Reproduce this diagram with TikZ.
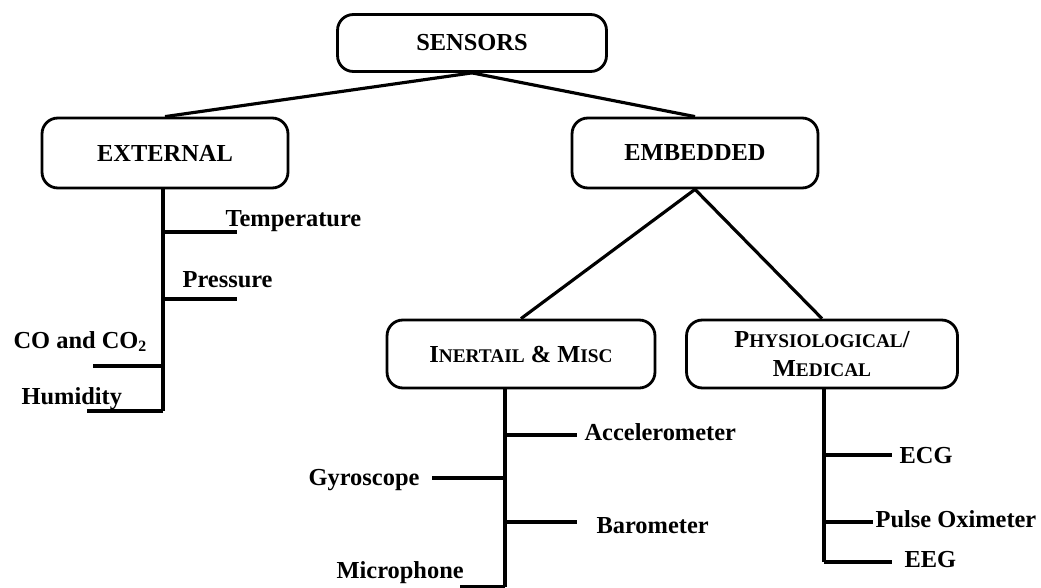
\documentclass[tikz,border=0pt]{standalone}
\usepackage{fontspec}
\setmainfont{Liberation Serif}
\usepackage{tikz}
\usetikzlibrary{shapes,arrows,positioning}

\newcommand{\capsmall}[2]{#1{\fontsize{11pt}{13pt}\selectfont #2}}
\newcommand{\lowtwo}{\raisebox{-0.35ex}{\fontsize{9pt}{10pt}\selectfont 2}}

\begin{document}
\begin{tikzpicture}[x=0.02cm,y=-0.02cm,line width=1.8pt,
  box/.style={draw, rectangle, rounded corners=9pt, line width=1.6pt, align=center,
    font=\bfseries\fontsize{13.9}{16}\selectfont},
  leaf/.style={inner sep=0pt, font=\bfseries\fontsize{13.9}{16}\selectfont}]
\useasboundingbox (0,0) rectangle (1041,588);

\node (sensors) [box, minimum width=5.38cm, minimum height=1.14cm] at (472,43) {SENSORS};
\node (external) [box, minimum width=4.92cm, minimum height=1.4cm] at (165,153) {EXTERNAL};
\node (embedded) [box, minimum width=4.92cm, minimum height=1.4cm] at (695,153) {EMBEDDED};
\node (inertial) [box, minimum width=5.36cm, minimum height=1.36cm] at (521,354) {\capsmall{I}{NERTAIL} \& \capsmall{M}{ISC}};
\node (medical) [box, minimum width=5.42cm, minimum height=1.36cm] at (822,354) {\capsmall{P}{HYSIOLOGICAL}/\\\capsmall{M}{EDICAL}};

\draw (sensors.south) -- (external.north);
\draw (sensors.south) -- (embedded.north);
\draw (embedded.south) -- (inertial.north);
\draw (embedded.south) -- (medical.north);

% external sensors
\coordinate (ext0) at (163,188);
\coordinate (ext1) at (163,232);
\coordinate (ext2) at (163,299);
\coordinate (ext3) at (163,366);
\coordinate (ext4) at (163,411);
\node (temp) [leaf, anchor=base west] at (224,226) {Temperature};
\node (press) [leaf, anchor=base west] at (181,287) {Pressure};
\node (gas) [leaf, anchor=base west] at (12,348) {CO and CO\lowtwo};
\node (humid) [leaf, anchor=base west] at (20,404) {Humidity};
\draw (ext0) -- (ext4);
\draw (ext1) -- (237,232);
\draw (ext2) -- (237,299);
\draw (ext3) -- (93,366);
\draw (ext4) -- (87,411);

% inertial and misc
\coordinate (ine0) at (505,388);
\coordinate (ine1) at (505,435);
\coordinate (ine2) at (505,478);
\coordinate (ine3) at (505,522);
\coordinate (ine4) at (505,587);
\node (acc) [leaf, anchor=base west] at (583,440) {Accelerometer};
\node (gyro) [leaf, anchor=base east] at (421,485) {Gyroscope};
\node (baro) [leaf, anchor=base west] at (595,533) {Barometer};
\node (mic) [leaf, anchor=base west] at (335,578) {Microphone};
\draw (ine0) -- (ine4);
\draw (ine1) -- (577,435);
\draw (ine2) -- (432,478);
\draw (ine3) -- (577,522);
\draw (ine4) -- (460,587);

% physiological
\coordinate (med0) at (824,388);
\coordinate (med1) at (824,455);
\coordinate (med2) at (824,522);
\coordinate (med3) at (824,562);
\node (ecg) [leaf, anchor=base west] at (898,463) {ECG};
\node (pulse) [leaf, anchor=base west] at (874,527) {Pulse Oximeter};
\node (eeg) [leaf, anchor=base west] at (903,567) {EEG};
\draw (med0) -- (med3);
\draw (med1) -- (892,455);
\draw (med2) -- (873,522);
\draw (med3) -- (892,562);
\end{tikzpicture}
\end{document}
